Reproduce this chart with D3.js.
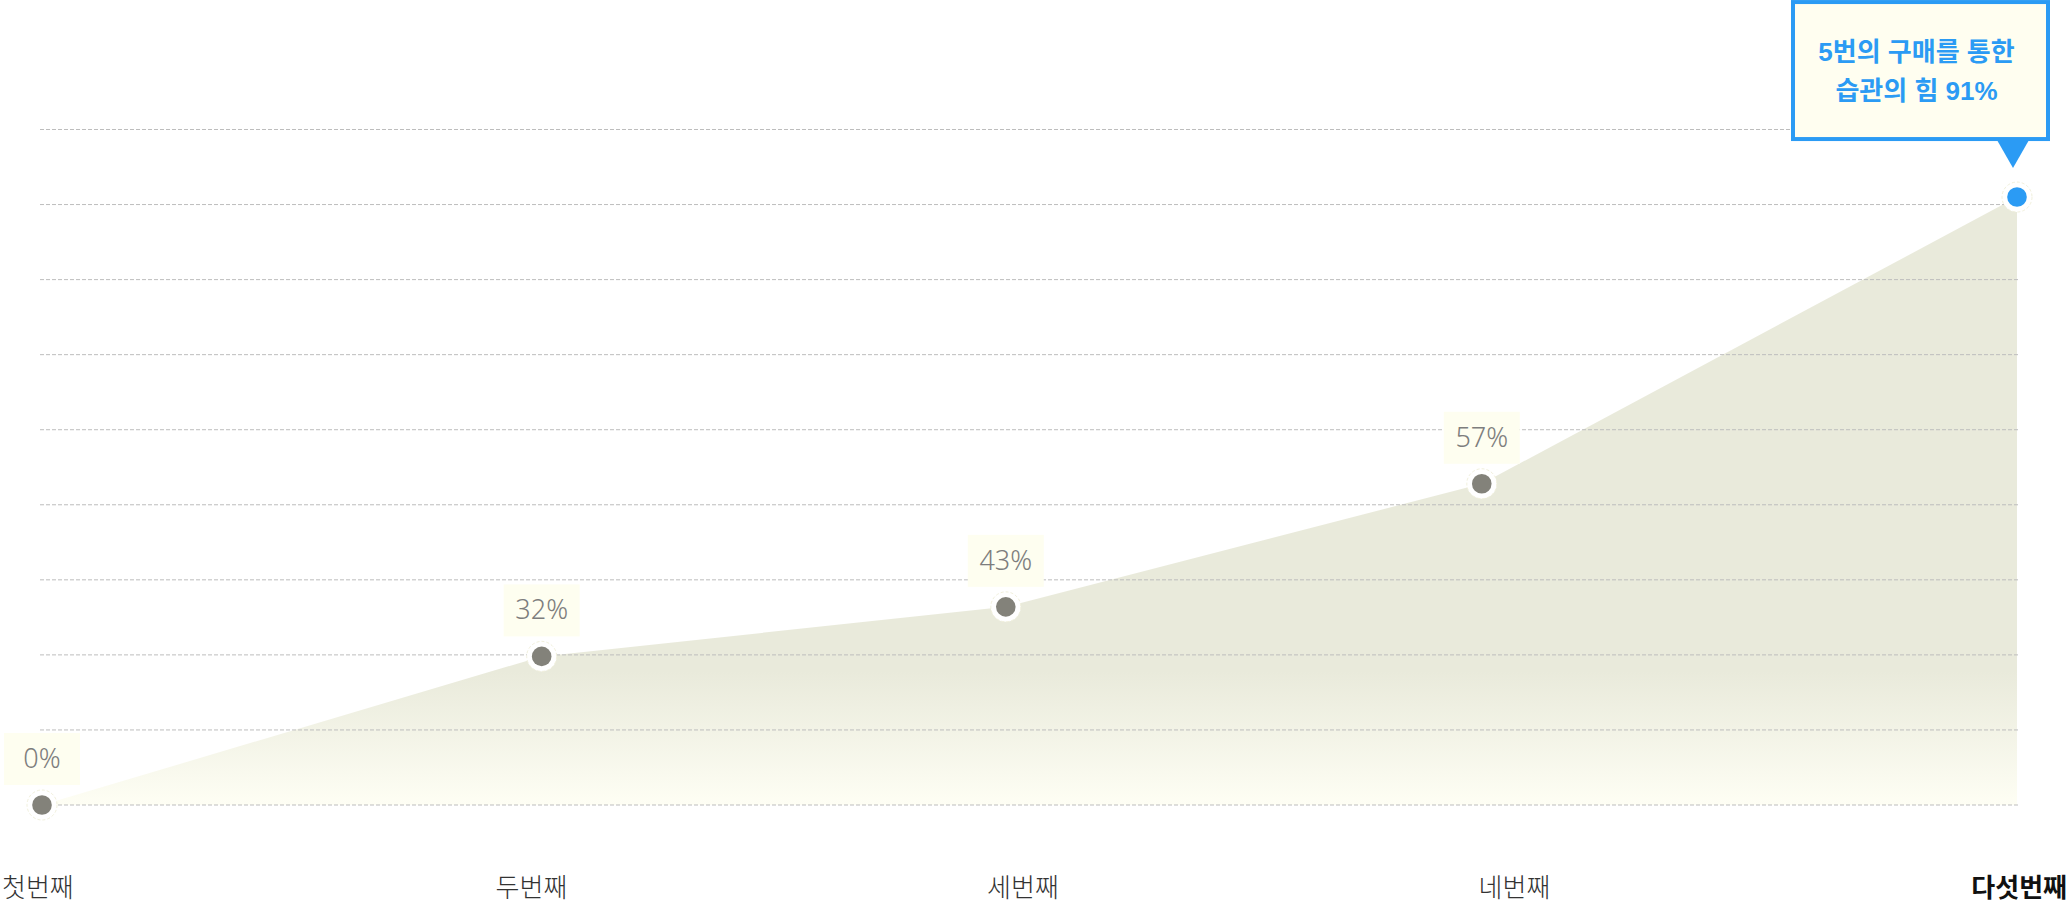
<!DOCTYPE html>
<html>
<head>
<meta charset="utf-8">
<script src="https://cdn.jsdelivr.net/npm/d3@7/dist/d3.min.js"></script>
<style>
  html, body { margin: 0; padding: 0; background: #fff; }
  svg { display: block; }
</style>
</head>
<body>
<svg id="chart" width="2068" height="906"></svg>
<script>
// ---- data ----
const categories = ["첫번째", "두번째", "세번째", "네번째", "다섯번째"];
const valueLabels = ["0%", "32%", "43%", "57%", "91%"];
// plotted heights (grid units, 0..90)
const values = [0, 19.8, 26.4, 42.8, 81.0];
// horizontal progress of each point (0..100)
const progress = [0, 25.3, 48.8, 72.9, 100];
const gridTicks = d3.range(0, 91, 10);
const calloutLines = ["5번의 구매를 통한", "습관의 힘 91%"];

// ---- layout ----
const svg = d3.select("#chart");
const x = d3.scaleLinear().domain([0, 100]).range([42, 2017]);
const y = d3.scaleLinear().domain([0, 90]).range([805, 129.5]);
const xCat = d3.scalePoint().domain(categories).range([40, 2006]);

const pts = values.map((v, i) => ({ v, p: progress[i], label: valueLabels[i], i }));
const last = pts[pts.length - 1];

// gradient
const defs = svg.append("defs");
const grad = defs.append("linearGradient").attr("id", "areaGrad")
  .attr("x1", 0).attr("y1", 0).attr("x2", 0).attr("y2", 1);
grad.append("stop").attr("offset", "0").attr("stop-color", "#e9eadb");
grad.append("stop").attr("offset", "0.78").attr("stop-color", "#e9eadb");
grad.append("stop").attr("offset", "1").attr("stop-color", "#fefef4");

// area
const area = d3.area()
  .x(d => x(d.p))
  .y0(y(0))
  .y1(d => y(d.v));
svg.append("path").datum(pts)
  .attr("d", area)
  .attr("fill", "url(#areaGrad)");

// gridlines
svg.append("g").selectAll("line").data(gridTicks).join("line")
  .attr("x1", 40).attr("x2", 2019)
  .attr("y1", d => y(d)).attr("y2", d => y(d))
  .attr("stroke", "#bdbdbd")
  .attr("stroke-width", 1)
  .attr("stroke-dasharray", "4,2");

// value labels (boxes), except last which is a callout
const lab = svg.append("g").selectAll("g").data(pts.slice(0, -1)).join("g")
  .attr("transform", d => `translate(${x(d.p)},${y(d.v)})`);
lab.append("rect")
  .attr("x", -38).attr("y", -72).attr("width", 76).attr("height", 52)
  .attr("fill", "#fefef0");
lab.append("text")
  .attr("x", 0).attr("y", -37)
  .attr("text-anchor", "middle")
  .attr("font-family", "'Noto Sans', 'Open Sans', sans-serif")
  .attr("font-weight", 300)
  .attr("font-size", 27)
  .attr("fill", "#7d7d7d")
  .text(d => d.label);

// dots
const dots = svg.append("g").selectAll("g").data(pts).join("g")
  .attr("transform", d => `translate(${x(d.p)},${y(d.v)})`);
dots.append("circle")
  .attr("r", 15)
  .attr("fill", "#fff")
  .attr("stroke", "#f1f0dc")
  .attr("stroke-width", 1)
  .attr("stroke-dasharray", "3,2");
dots.append("circle")
  .attr("r", 9.8)
  .attr("fill", (d, i) => i === pts.length - 1 ? "#2b9bf4" : "#83827a");

// callout for the last point
const cx = x(last.p) - 4, cy = y(last.v);
const co = svg.append("g");
const boxW = 255, boxH = 137;
const boxX = cx - 220, boxY = cy - 195;
co.append("rect")
  .attr("x", boxX).attr("y", boxY).attr("width", boxW).attr("height", boxH)
  .attr("fill", "#fffef0")
  .attr("stroke", "#2b9bf4")
  .attr("stroke-width", 4);
co.append("path")
  .attr("d", `M${cx - 16},${boxY + boxH + 1} L${cx + 16},${boxY + boxH + 1} L${cx},${cy - 29} Z`)
  .attr("fill", "#2b9bf4");
co.selectAll("text").data(calloutLines).join("text")
  .attr("x", boxX + boxW / 2 - 4)
  .attr("y", (d, i) => boxY + 59 + i * 39)
  .attr("text-anchor", "middle")
  .attr("font-family", "'Liberation Sans', 'Noto Sans CJK KR', sans-serif")
  .attr("font-weight", "bold")
  .attr("font-size", 26)
  .attr("fill", "#2b9bf4")
  .text(d => d);

// category labels
svg.append("g").selectAll("text").data(categories).join("text")
  .attr("x", d => xCat(d))
  .attr("y", 897)
  .attr("text-anchor", (d, i) => i === 0 ? "start" : (i === categories.length - 1 ? "end" : "middle"))
  .attr("dx", (d, i) => i === 0 ? -38 : (i === categories.length - 1 ? 61 : 0))
  .attr("font-family", "'Noto Sans CJK KR', sans-serif")
  .attr("font-weight", (d, i) => i === categories.length - 1 ? "bold" : 300)
  .attr("font-size", 26)
  .attr("fill", (d, i) => i === categories.length - 1 ? "#111" : "#333")
  .text(d => d);
</script>
</body>
</html>
